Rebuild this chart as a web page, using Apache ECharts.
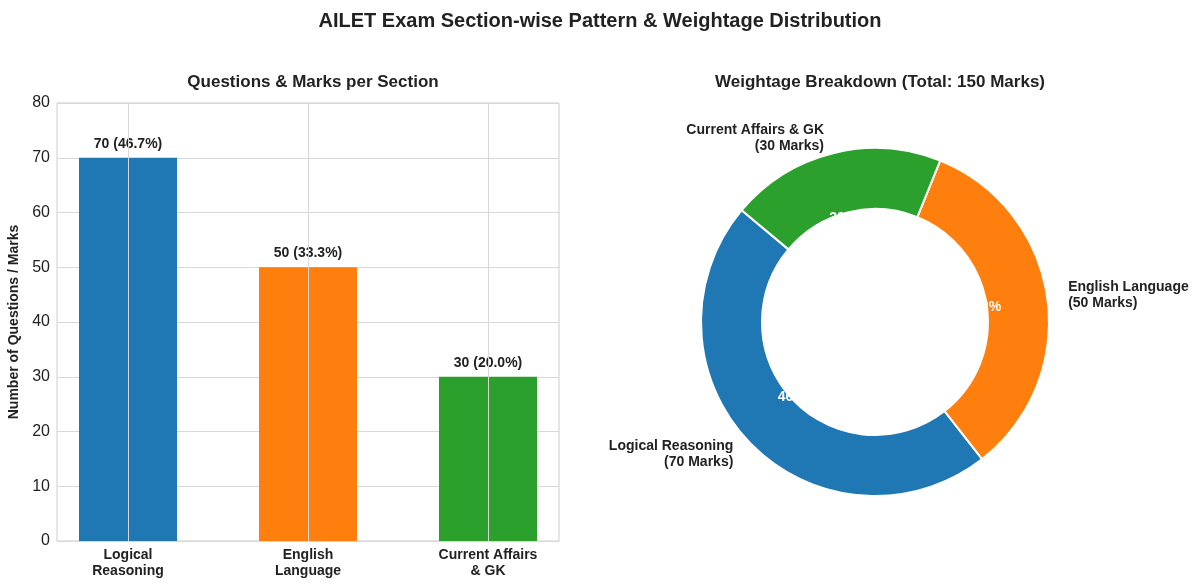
<!DOCTYPE html>
<html><head><meta charset="utf-8">
<script src="https://cdn.jsdelivr.net/npm/echarts@6/dist/echarts.min.js"></script>
<style>html,body{margin:0;padding:0;background:#fff}#c{width:1200px;height:587px}</style>
</head><body><div id="c"></div>
<script>
const categories = ['Logical\nReasoning', 'English\nLanguage', 'Current Affairs\n& GK'];
const pieNames = ['Logical Reasoning', 'English Language', 'Current Affairs & GK'];
const marks = [70, 50, 30];
const colors = ['#1f77b4', '#ff7f0e', '#2ca02c'];
const total = marks.reduce((a, b) => a + b, 0);
const F = 'Liberation Sans, Arial, sans-serif';
const pct = v => (v / total * 100).toFixed(1) + '%';

const chart = echarts.init(document.getElementById('c'));
chart.setOption({
  animation: false,
  textStyle: { fontFamily: F },
  title: [
    { text: 'AILET Exam Section-wise Pattern & Weightage Distribution', left: 'center', top: 6,
      textStyle: { fontSize: 20, fontWeight: 'bold', color: '#222', fontFamily: F } },
    { text: 'Questions & Marks per Section', left: 308, textAlign: 'center', top: 69,
      textStyle: { fontSize: 17, fontWeight: 'bold', color: '#222', fontFamily: F } },
    { text: 'Weightage Breakdown (Total: 150 Marks)', left: 875, textAlign: 'center', top: 69,
      textStyle: { fontSize: 17, fontWeight: 'bold', color: '#222', fontFamily: F } }
  ],
  grid: [
    { left: 38, width: 540, top: 103, height: 438 },
    { left: 57, width: 502, top: 103, height: 438, show: true, borderColor: '#cccccc', borderWidth: 1, z: 0 }
  ],
  xAxis: [
    { type: 'category', gridIndex: 0, data: categories,
      axisLine: { show: false }, axisTick: { show: false }, splitLine: { show: false },
      axisLabel: { fontSize: 14, fontWeight: 'bold', color: '#222', margin: 6, lineHeight: 16, fontFamily: F } },
    { type: 'value', gridIndex: 1, show: false }
  ],
  yAxis: [
    { type: 'value', gridIndex: 0, min: 0, max: 80, interval: 10, show: false },
    { type: 'value', gridIndex: 1, min: 0, max: 80, interval: 10,
      name: 'Number of Questions / Marks', nameLocation: 'middle', nameGap: 36,
      nameTextStyle: { fontSize: 14, fontWeight: 'bold', color: '#222', fontFamily: F },
      axisLine: { show: false }, axisTick: { show: false },
      axisLabel: { fontSize: 16, color: '#222', margin: 7, fontFamily: F },
      splitLine: { lineStyle: { color: '#d8d8d8', width: 1 } } }
  ],
  series: [
    { type: 'line', xAxisIndex: 0, yAxisIndex: 0, data: [], z: 1, silent: true,
      markLine: { symbol: 'none', silent: true, label: { show: false },
        lineStyle: { color: '#d8d8d8', type: 'solid', width: 1 },
        data: categories.map(c => ({ xAxis: c })) } },
    { type: 'bar', xAxisIndex: 0, yAxisIndex: 0, barWidth: 98, z: 3,
      data: marks.map((v, i) => ({ value: v, itemStyle: { color: colors[i] } })),
      label: { show: true, position: 'top', distance: 7, fontSize: 14, fontWeight: 'bold', color: '#222',
        formatter: p => p.value + ' (' + pct(p.value) + ')' } },
    { type: 'pie', center: [875, 322], radius: [113, 174], startAngle: 140, clockwise: false,
      avoidLabelOverlap: false, z: 2,
      itemStyle: { borderColor: '#fff', borderWidth: 2 },
      data: marks.map((v, i) => ({ name: pieNames[i] + '\n(' + v + ' Marks)', value: v, itemStyle: { color: colors[i] } })),
      label: { show: true, position: 'outside', fontSize: 14, fontWeight: 'bold', color: '#222', lineHeight: 16, fontFamily: F,
        formatter: p => p.name },
      labelLine: { show: false, length: 16, length2: 0 } },
    { type: 'pie', center: [875, 322], radius: [0, 209], startAngle: 140, clockwise: false, z: 5, silent: true,
      itemStyle: { color: 'rgba(0,0,0,0)' },
      data: marks.map((v, i) => ({ name: pieNames[i], value: v })),
      label: { show: true, position: 'inside', fontSize: 14, fontWeight: 'bold', color: '#fff', fontFamily: F,
        formatter: p => pct(p.value) },
      labelLine: { show: false } },
    { type: 'pie', center: [875, 322], radius: [0, 111], z: 6, silent: true,
      itemStyle: { color: '#fff' }, label: { show: false }, data: [{ value: 1 }] }
  ]
});
</script></body></html>
